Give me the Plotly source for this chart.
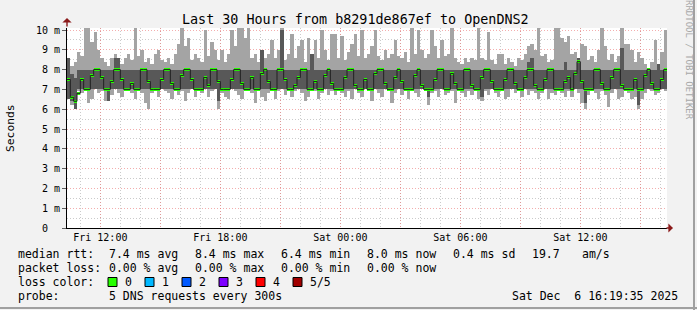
import plotly.graph_objects as go
import pandas as pd

# ---------------- data ----------------
start_time = "2025-12-05 10:20:00"
step_minutes = 10

# max ping (top of light smoke), ms
ping_max = [
    8.6, 8.2, 8.4, 8.9, 8.7, 10.1, 10.1, 9.4, 9.9, 9.0,
    8.6, 8.4, 8.2, 8.6, 8.8, 8.6, 8.3, 8.6, 8.8, 8.5,
    10.1, 8.7, 9.0, 8.4, 8.6, 8.3, 8.8, 9.0, 8.5, 8.4,
    8.6, 8.3, 8.8, 9.3, 10.1, 9.2, 9.6, 8.5, 8.8, 8.6,
    8.4, 10.0, 8.7, 9.4, 9.0, 8.5, 9.0, 8.4, 8.8, 10.0,
    9.2, 10.1, 10.1, 9.6, 10.1, 8.6, 8.8, 8.4, 9.0, 8.6,
    8.8, 9.5, 8.6, 9.0, 10.1, 8.5, 8.8, 9.8, 8.6, 9.2,
    9.5, 8.4, 9.6, 8.8, 9.5, 8.6, 10.0, 9.0, 8.5, 9.8,
    9.8, 8.6, 9.7, 8.5, 8.9, 9.3, 9.8, 8.7, 10.0, 8.6,
    8.8, 9.2, 10.0, 8.7, 8.5, 9.0, 8.6, 8.8, 9.5, 8.7,
    8.6, 8.9, 8.4, 10.1, 8.8, 10.0, 9.0, 8.6, 8.8, 10.0,
    9.2, 8.6, 9.5, 8.7, 8.8, 10.1, 8.6, 8.4, 8.3, 8.6,
    8.4, 8.6, 8.5, 10.1, 8.6, 8.5, 9.9, 8.5, 8.3, 8.8,
    8.8, 8.3, 8.6, 8.4, 8.2, 8.6, 8.5, 8.8, 9.2, 9.3,
    9.0, 10.1, 8.7, 8.8, 8.4, 8.5, 10.1, 10.1, 9.6, 9.4,
    9.7, 8.8, 8.9, 8.6, 9.3, 9.2, 8.5, 8.7, 8.4, 9.0,
    10.1, 9.2, 8.5, 8.8, 8.4, 8.7, 10.1, 9.3, 9.3, 9.0,
    8.4, 8.9, 8.6, 8.3, 8.0, 8.4, 9.5, 8.3, 8.9, 10.0,
]
# min ping (bottom of light smoke), ms
ping_min = [
    6.6, 6.2, 6.0, 6.9, 6.8, 6.9, 6.3, 6.5, 7.0, 6.8,
    6.9, 6.4, 7.0, 6.7, 7.0, 6.8, 6.6, 6.9, 7.0, 6.8,
    6.5, 7.0, 6.8, 6.3, 6.0, 6.8, 7.0, 6.6, 7.0, 6.9,
    6.8, 6.5, 7.0, 6.7, 6.9, 6.4, 6.8, 7.0, 6.6, 6.9,
    6.8, 7.0, 6.6, 6.9, 7.0, 6.0, 6.8, 6.6, 6.5, 7.0,
    6.9, 6.7, 6.5, 6.9, 7.0, 6.8, 6.3, 7.0, 6.6, 6.4,
    6.8, 7.0, 6.5, 6.9, 7.0, 6.7, 6.9, 6.6, 6.9, 7.0,
    6.8, 6.4, 6.6, 7.0, 6.9, 6.5, 6.8, 7.0, 6.7, 6.9,
    6.7, 7.0, 6.8, 6.6, 6.9, 6.5, 7.0, 6.8, 6.6, 7.0,
    6.9, 6.4, 7.0, 6.8, 6.6, 7.0, 6.9, 6.3, 6.8, 7.0,
    6.7, 6.9, 6.5, 7.0, 6.8, 6.6, 7.0, 6.9, 6.2, 6.8,
    6.9, 6.6, 7.0, 6.7, 6.8, 6.9, 6.3, 7.0, 6.8, 6.6,
    6.9, 6.7, 7.0, 6.5, 6.4, 6.9, 6.7, 7.0, 6.8, 6.6,
    6.9, 6.5, 6.6, 7.0, 6.8, 6.9, 6.6, 7.0, 6.7, 6.9,
    6.8, 6.5, 6.8, 7.0, 6.5, 6.8, 6.7, 6.9, 6.8, 6.6,
    6.9, 6.6, 7.0, 6.8, 6.3, 6.0, 6.7, 7.0, 6.8, 6.5,
    6.9, 6.7, 6.1, 6.8, 7.0, 6.5, 6.6, 6.9, 6.8, 6.5,
    6.6, 6.0, 6.5, 6.8, 7.0, 6.9, 6.7, 6.8, 7.0, 6.9,
]
# 2nd and 4th ping (dark smoke band), ms
ping_2nd = [
    6.5, 6.4, 6.0, 7.0, 7.0, 7.0, 7.0, 7.0, 7.0, 7.0,
    7.0, 7.0, 6.4, 7.0, 7.0, 7.0, 7.0, 7.0, 7.0, 7.0,
    7.0, 7.0, 7.0, 7.0, 7.0, 7.0, 7.0, 7.0, 7.0, 7.0,
    7.0, 7.0, 7.0, 7.0, 7.0, 7.0, 7.0, 7.0, 7.0, 7.0,
    7.0, 7.0, 7.0, 7.0, 7.0, 6.4, 7.0, 7.0, 7.0, 7.0,
    7.0, 7.0, 7.0, 7.0, 7.0, 7.0, 7.0, 7.0, 7.0, 7.0,
    7.0, 7.0, 7.0, 7.0, 7.0, 7.0, 7.0, 7.0, 7.0, 7.0,
    7.0, 7.0, 7.0, 7.0, 7.0, 7.0, 7.0, 7.0, 7.0, 7.0,
    7.0, 7.0, 7.0, 7.0, 7.0, 7.0, 7.0, 7.0, 7.0, 7.0,
    7.0, 7.0, 7.0, 7.0, 7.0, 7.0, 7.0, 7.0, 7.0, 7.0,
    7.0, 7.0, 7.0, 7.0, 7.0, 7.0, 7.0, 7.0, 6.6, 7.0,
    7.0, 7.0, 7.0, 7.0, 7.0, 7.0, 7.0, 7.0, 7.0, 7.0,
    7.0, 7.0, 7.0, 7.0, 6.6, 7.0, 7.0, 7.0, 7.0, 7.0,
    7.0, 7.0, 7.0, 7.0, 7.0, 7.0, 7.0, 7.0, 7.0, 7.0,
    7.0, 7.0, 7.0, 7.0, 7.0, 7.0, 7.0, 7.0, 7.0, 7.0,
    7.0, 7.0, 7.0, 7.0, 7.0, 6.3, 7.0, 7.0, 7.0, 7.0,
    7.0, 7.0, 7.0, 7.0, 7.0, 7.0, 7.0, 7.0, 7.0, 7.0,
    7.0, 6.2, 7.0, 7.0, 7.0, 7.0, 7.0, 7.0, 7.0, 7.0,
]
ping_4th = [
    8.6, 7.8, 7.6, 8.0, 8.0, 8.0, 8.0, 8.0, 8.0, 8.0,
    8.0, 8.0, 8.0, 8.0, 8.6, 8.6, 8.0, 8.0, 8.0, 8.0,
    8.0, 8.0, 8.0, 8.0, 8.0, 8.0, 8.0, 8.0, 8.0, 8.0,
    8.0, 8.0, 8.0, 8.0, 8.0, 8.0, 8.0, 8.0, 8.0, 8.0,
    8.0, 8.0, 8.0, 8.0, 8.0, 8.0, 8.0, 8.0, 8.0, 8.0,
    8.0, 8.0, 8.0, 8.0, 8.0, 8.0, 8.0, 8.0, 9.0, 8.0,
    8.0, 8.0, 8.0, 8.0, 10.0, 8.0, 8.0, 8.0, 8.0, 8.0,
    8.0, 8.0, 8.0, 8.8, 8.0, 8.0, 8.0, 8.0, 8.0, 8.0,
    8.0, 8.0, 8.0, 8.0, 8.0, 8.0, 8.0, 8.0, 8.0, 8.0,
    8.0, 8.0, 8.0, 8.0, 8.0, 8.0, 8.0, 8.0, 8.0, 8.0,
    8.0, 8.0, 8.0, 8.0, 8.0, 8.0, 8.0, 8.0, 8.0, 8.0,
    8.0, 8.0, 8.0, 8.0, 8.0, 8.0, 8.0, 8.0, 8.0, 8.0,
    8.0, 8.0, 8.0, 8.0, 8.0, 8.0, 8.0, 8.0, 8.0, 8.0,
    8.0, 8.0, 8.0, 8.0, 8.0, 8.0, 8.0, 8.0, 8.4, 8.6,
    8.0, 8.0, 8.0, 8.0, 8.0, 8.0, 8.0, 8.0, 8.0, 8.4,
    8.0, 8.0, 8.0, 8.6, 8.0, 8.0, 8.0, 8.0, 8.0, 8.0,
    8.0, 8.0, 8.0, 8.0, 8.0, 8.0, 9.1, 8.0, 8.0, 8.0,
    8.0, 8.0, 8.0, 8.0, 8.0, 8.0, 8.0, 8.3, 8.0, 8.0,
]
# median rtt, ms
median_rtt = [
    7.5, 6.6, 6.4, 6.8, 7.5, 7.0, 7.0, 7.7, 8.0, 8.0,
    7.6, 7.0, 7.0, 7.4, 8.0, 8.0, 7.5, 7.0, 7.0, 7.3,
    7.0, 7.0, 8.0, 8.0, 7.4, 7.0, 7.0, 7.0, 7.5, 8.0,
    8.0, 7.3, 7.0, 7.0, 7.7, 8.0, 8.0, 7.5, 7.0, 7.0,
    7.0, 7.6, 7.2, 8.0, 8.0, 7.4, 7.0, 7.0, 7.0, 7.5,
    8.0, 8.0, 7.3, 7.0, 7.0, 7.6, 7.0, 7.0, 7.8, 8.0,
    7.4, 7.0, 7.0, 8.0, 8.0, 7.5, 7.0, 7.0, 7.2, 7.6,
    8.0, 8.0, 7.0, 7.0, 7.4, 7.0, 7.0, 7.7, 8.0, 7.3,
    7.0, 7.0, 7.0, 7.6, 8.0, 8.0, 7.2, 7.0, 7.0, 7.5,
    7.0, 7.0, 7.8, 8.0, 8.0, 7.3, 7.0, 7.0, 7.6, 8.0,
    7.4, 7.0, 7.0, 7.0, 7.7, 8.0, 7.2, 7.0, 7.0, 7.0,
    7.5, 8.0, 8.0, 7.0, 7.0, 7.8, 7.3, 7.0, 7.0, 8.0,
    8.0, 7.2, 7.0, 7.0, 7.6, 8.0, 8.0, 7.4, 7.0, 7.0,
    7.0, 7.5, 8.0, 8.0, 7.3, 7.0, 7.0, 7.6, 8.0, 8.0,
    7.2, 7.0, 7.0, 7.5, 8.0, 8.0, 7.0, 7.0, 7.0, 7.4,
    7.6, 7.0, 7.8, 8.4, 7.4, 7.0, 7.0, 7.0, 8.0, 8.0,
    7.3, 7.0, 7.0, 7.6, 8.0, 8.0, 7.2, 7.0, 7.0, 7.0,
    7.5, 7.0, 7.0, 7.7, 8.0, 7.3, 7.0, 7.0, 7.5, 8.0,
]

y_tick_values = [0, 1, 2, 3, 4, 5, 6, 7, 8, 9, 10]
y_tick_labels = ["0\u00a0\u00a0", "1 m", "2 m", "3 m", "4 m", "5 m",
                 "6 m", "7 m", "8 m", "9 m", "10 m"]
x_grid_times = ["2025-12-05 12:00", "2025-12-05 15:00", "2025-12-05 18:00",
                "2025-12-05 21:00", "2025-12-06 00:00", "2025-12-06 03:00",
                "2025-12-06 06:00", "2025-12-06 09:00", "2025-12-06 12:00",
                "2025-12-06 15:00"]
x_tick_labels = ["Fri 12:00", "", "Fri 18:00", "", "Sat 00:00", "",
                 "Sat 06:00", "", "Sat 12:00", ""]

title_text = "Last 30 Hours from b8291de867ef to OpenDNS2"
legend_rows = [
    ["median rtt:", "7.4 ms avg", "8.4 ms max", "6.4 ms min", "8.0 ms now",
     "0.4 ms sd", "19.7", "am/s"],
    ["packet loss:", "0.00 % avg", "0.00 % max", "0.00 % min", "0.00 % now"],
]
loss_labels = ["0", "1", "2", "3", "4", "5/5"]
loss_colors = ["#26ff00", "#00b8ff", "#0059ff", "#7e00ff", "#ff0000", "#a10000"]
probe_text = "5 DNS requests every 300s"
stamp_text = "Sat Dec\u00a0\u00a06 16:19:35 2025"

# ---------------- layout helpers ----------------
W, H = 697, 310
PL, PR, PT, PB = 67, 667, 28, 228
def px(x):
    return (x - PL) / (PR - PL)
def py(y):
    return (PB - y) / (PB - PT)

FONT = "DejaVu Sans Mono"
MAJOR_GRID = "rgba(235,120,120,0.6)"
MINOR_GRID = "rgba(160,160,160,0.55)"
DASH = "1px,2px"

t0 = pd.Timestamp(start_time)
step = pd.Timedelta(minutes=step_minutes)
n = len(ping_max)
starts = [t0 + i * step for i in range(n)]
centers = [s + step / 2 for s in starts]
t_end = t0 + n * step
bar_w = step_minutes * 60 * 1000

fig = go.Figure()
fig.add_trace(go.Bar(
    x=centers, base=ping_min, y=[h - l for h, l in zip(ping_max, ping_min)],
    width=bar_w, marker=dict(color="#a4a4a4", line=dict(width=0)),
    hoverinfo="skip"))
fig.add_trace(go.Bar(
    x=centers, base=ping_2nd, y=[h - l for h, l in zip(ping_4th, ping_2nd)],
    width=bar_w, marker=dict(color="#585858", line=dict(width=0)),
    hoverinfo="skip"))
fig.add_trace(go.Scatter(
    x=starts + [t_end], y=median_rtt + [median_rtt[-1]], mode="lines",
    line=dict(color="#202020", width=1, shape="hv"), hoverinfo="skip"))
fig.add_trace(go.Bar(
    x=centers, base=[m - 0.07 for m in median_rtt], y=[0.14] * n,
    width=bar_w, marker=dict(color=loss_colors[0], line=dict(width=0)),
    hoverinfo="skip"))

fig.update_layout(
    width=W, height=H, autosize=False,
    margin=dict(l=PL, r=W - PR, t=PT, b=H - PB, pad=0),
    paper_bgcolor="#f2f2f2", plot_bgcolor="#ffffff",
    showlegend=False, barmode="overlay", bargap=0,
    font=dict(family=FONT, color="#000000"),
)
fig.update_xaxes(
    type="date", range=[t0, t_end], tickmode="array",
    tickvals=x_grid_times, ticktext=x_tick_labels,
    tickfont=dict(family=FONT, size=10, color="#000000"),
    showgrid=True, gridcolor=MAJOR_GRID, griddash=DASH, gridwidth=1,
    minor=dict(tickmode="linear", tick0="2025-12-05 00:00", dtick=3600000,
               showgrid=True, gridcolor=MINOR_GRID, griddash=DASH, gridwidth=1),
    showline=True, linecolor="#000000", linewidth=1, ticks="", zeroline=False,
    fixedrange=True,
)
fig.update_yaxes(
    range=[0, (PB - PT) / 19.8], tickmode="array",
    tickvals=y_tick_values, ticktext=y_tick_labels,
    tickfont=dict(family=FONT, size=10, color="#000000"),
    showgrid=True, gridcolor=MAJOR_GRID, griddash=DASH, gridwidth=1,
    minor=dict(tickmode="linear", tick0=0.5, dtick=1, showgrid=True,
               gridcolor=MINOR_GRID, griddash=DASH, gridwidth=1),
    showline=True, linecolor="#000000", linewidth=1,
    ticks="outside", ticklen=4, tickcolor="#606060", zeroline=False,
    fixedrange=True,
)

ann = []
ann.append(dict(text=title_text, x=px(355), y=py(19), xref="paper", yref="paper",
                xanchor="center", yanchor="middle", showarrow=False,
                font=dict(family=FONT, size=13.4, color="#000000")))
ann.append(dict(text="Seconds", x=px(10), y=py(128), xref="paper", yref="paper",
                xanchor="center", yanchor="middle", showarrow=False, textangle=-90,
                font=dict(family=FONT, size=11.3, color="#000000")))
ann.append(dict(text="RRDTOOL / TOBI OETIKER", x=px(689), y=py(60), xref="paper",
                yref="paper", xanchor="center", yanchor="middle", showarrow=False,
                textangle=90, font=dict(family=FONT, size=9, color="#a8a8a8")))
# axis arrows
ann.append(dict(text="", x=px(PL), y=py(18), xref="paper", yref="paper",
                showarrow=True, ax=0, ay=10, arrowhead=1, arrowsize=1.1,
                arrowwidth=1.4, arrowcolor="#8b1a1a"))
ann.append(dict(text="", x=px(673), y=py(PB), xref="paper", yref="paper",
                showarrow=True, ax=-8, ay=0, arrowhead=1, arrowsize=1.1,
                arrowwidth=1.4, arrowcolor="#8b1a1a"))

lf = dict(family=FONT, size=11.5, color="#000000")
col_x = [16, 107, 193, 279, 365, 451, 530, 580]
row_y = [254, 268, 282, 296]
for r, row in enumerate(legend_rows):
    for c, txt in enumerate(row):
        ann.append(dict(text=txt, x=px(col_x[c]), y=py(row_y[r]), xref="paper",
                        yref="paper", xanchor="left", yanchor="middle",
                        showarrow=False, font=lf))
ann.append(dict(text="loss color:", x=px(16), y=py(row_y[2]), xref="paper",
                yref="paper", xanchor="left", yanchor="middle", showarrow=False, font=lf))
box_x = [108, 145, 182, 219, 256, 293]
shapes = []
for bx, lab, colr in zip(box_x, loss_labels, loss_colors):
    shapes.append(dict(type="rect", xref="paper", yref="paper",
                       x0=px(bx), x1=px(bx + 9), y0=py(row_y[2] + 4.5),
                       y1=py(row_y[2] - 4.5), fillcolor=colr,
                       line=dict(color="#000000", width=1)))
    ann.append(dict(text=lab, x=px(bx + 15), y=py(row_y[2]), xref="paper",
                    yref="paper", xanchor="left", yanchor="middle",
                    showarrow=False, font=lf))
ann.append(dict(text="probe:", x=px(16), y=py(row_y[3]), xref="paper",
                yref="paper", xanchor="left", yanchor="middle", showarrow=False, font=lf))
ann.append(dict(text=probe_text, x=px(107), y=py(row_y[3]), xref="paper",
                yref="paper", xanchor="left", yanchor="middle", showarrow=False, font=lf))
ann.append(dict(text=stamp_text, x=px(680), y=py(row_y[3]), xref="paper",
                yref="paper", xanchor="right", yanchor="middle", showarrow=False, font=lf))

# frame edges (rrdtool 3D border)
shapes.append(dict(type="line", xref="paper", yref="paper", x0=px(694), x1=px(694),
                   y0=py(0), y1=py(H), line=dict(color="#a0a0a0", width=2)))
shapes.append(dict(type="line", xref="paper", yref="paper", x0=px(0), x1=px(W),
                   y0=py(308), y1=py(308), line=dict(color="#a0a0a0", width=2)))

fig.update_layout(annotations=ann, shapes=shapes)
fig.write_html("out.html", config={"displayModeBar": False})
